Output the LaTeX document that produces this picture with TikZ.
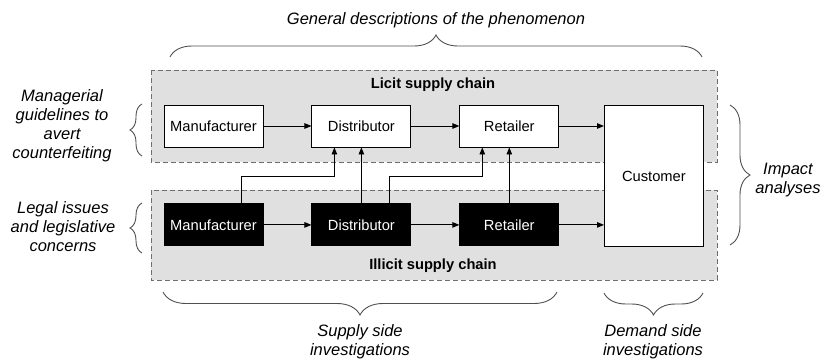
\documentclass[tikz,border=0pt]{standalone}
\usepackage{fontspec}
\setmainfont{Liberation Sans}
\usetikzlibrary{arrows.meta,decorations.pathreplacing,positioning}
\definecolor{panelgray}{RGB}{224,224,224}
\definecolor{dashgray}{RGB}{110,110,110}
\definecolor{bracegray}{RGB}{80,80,80}

\begin{document}
\begin{tikzpicture}[x=1pt,y=-1pt,
	chainbox/.style={draw,line width=0.9pt,minimum width=99pt,minimum height=42pt,inner sep=0pt,font=\fontsize{14.7}{17}\selectfont},
	licitbox/.style={chainbox,fill=white},
	illicitbox/.style={chainbox,fill=black,text=white},
	panel/.style={draw=dashgray,line width=0.9pt,dash pattern=on 5pt off 3pt,fill=panelgray},
	flow/.style={-{Triangle[length=7pt,width=5.5pt]},line width=0.9pt},
	curly/.style={decorate,decoration={brace,amplitude=#1},draw=bracegray,line width=0.9pt},
	note/.style={align=center,font=\fontsize{16.5}{19}\selectfont\itshape}]
			\useasboundingbox (0,0) rectangle (823,362);
			% the two chains
			\draw[panel] (151,70) rectangle (717,162);
			\draw[panel] (151,190) rectangle (717,280);
			\node[font=\fontsize{14.7}{17}\selectfont\bfseries] (licit) at (433,85) {Licit supply chain};
			\node[font=\fontsize{14.7}{17}\selectfont\bfseries] (illicit) at (433,266) {Illicit supply chain};
			\node[licitbox] (lman) at (213.5,126) {Manufacturer};
			\node[licitbox,right=48pt of lman] (ldis) {Distributor};
			\node[licitbox,right=48pt of ldis] (lret) {Retailer};
			\node[illicitbox,below=56pt of lman] (iman) {Manufacturer};
			\node[illicitbox,below=56pt of ldis] (idis) {Distributor};
			\node[illicitbox,below=56pt of lret] (iret) {Retailer};
			\node[licitbox,minimum height=141pt,anchor=north west] (cust) at (604,105) {Customer};
			\draw[flow] (lman) -- (ldis);
			\draw[flow] (ldis) -- (lret);
			\draw[flow] (lret.east) -- (cust.west |- lret.east);
			\draw[flow] (iman) -- (idis);
			\draw[flow] (idis) -- (iret);
			\draw[flow] (iret.east) -- (cust.west |- iret.east);
			\draw[flow] ([xshift=27.5pt]iman.north) -- ++(0,-27) -| ([xshift=-27pt]ldis.south);
			\draw[flow] (idis) -- (ldis);
			\draw[flow] ([xshift=28pt]idis.north) -- ++(0,-27) -| ([xshift=-27pt]lret.south);
			\draw[flow] (iret) -- (lret);
			% braces and what they stand for
			\draw[curly=22pt] (170,57) -- (702,57);
			\node[note] (general) at (436,20) {General descriptions of the phenomenon};
			\draw[curly=12pt] (142,156) -- (142,104);
			\node[note] (managerial) at (62,126) {Managerial\\guidelines to\\avert\\counterfeiting};
			\draw[curly=12pt] (142,253) -- (142,203);
			\node[note] (legal) at (63,227) {Legal issues\\and legislative\\concerns};
			\draw[curly=20pt] (730,105) -- (730,245);
			\node[note] (impact) at (788,180) {Impact\\analyses};
			\draw[curly=23pt] (557,292) -- (163,292);
			\node[note] (supply) at (360,342) {Supply side\\investigations};
			\draw[curly=22pt] (703,293) -- (604,293);
			\node[note] (demand) at (653,342) {Demand side\\investigations};
		\end{tikzpicture}
\end{document}
